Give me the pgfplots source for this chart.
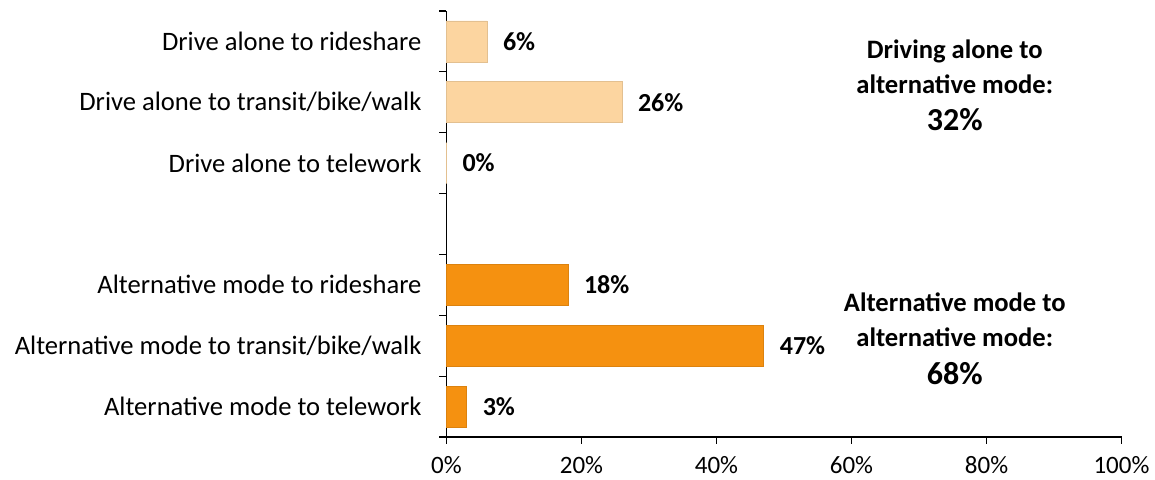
\documentclass[border=0pt]{standalone}
\usepackage{fontspec}
\setmainfont{Carlito}
\usepackage{pgfplots}
\pgfplotsset{compat=1.18}
\definecolor{lightor}{RGB}{252,213,160}
\definecolor{darkor}{RGB}{245,145,16}
\begin{document}
\begin{tikzpicture}
\begin{axis}[
  xbar,
  scale only axis,
  width=337.5pt, height=213pt,
  xmin=0, xmax=100,
  ymin=-0.5, ymax=6.5,
  axis lines=left,
  axis line style={-, line width=0.8pt, black},
  bar width=20.5pt,
  bar shift=0pt,
  xtick={0,20,40,60,80,100},
  xticklabels={0\%,20\%,40\%,60\%,80\%,100\%},
  % boundaries between categories carry the ticks
  ytick={-0.5,0.5,...,6.5},
  yticklabels={},
  extra y ticks={0,1,2,4,5,6},
  extra y tick labels={Alternative mode to telework,
               Alternative mode to transit/bike/walk,
               Alternative mode to rideshare,
               Drive alone to telework,
               Drive alone to transit/bike/walk,
               Drive alone to rideshare},
  extra y tick style={major tick length=0pt,
    yticklabel style={font=\fontsize{13.3}{15}\selectfont, xshift=-9pt}},
  xticklabel style={font=\fontsize{12.5}{14}\selectfont, yshift=-2.5pt},
  major tick length=3.5pt,
  tick style={black, line width=0.6pt},
  tick align=outside,
  point meta=x,
  nodes near coords={\pgfmathprintnumber[assume math mode=true]{\pgfplotspointmeta}\%},
  nodes near coords style={font=\bfseries\fontsize{13}{15}\selectfont, anchor=west, xshift=4.5pt},
  clip=false,
]
\addplot[fill=lightor, draw=lightor!90!black] coordinates {
  (6,6) (26,5) (0,4)
};
\addplot[fill=darkor, draw=darkor!90!black] coordinates {
  (18,2) (47,1) (3,0)
};
\node[font=\bfseries\fontsize{13.3}{15}\selectfont] at (axis cs:75.3,5.83) {Driving alone to};
\node[font=\bfseries\fontsize{13.3}{15}\selectfont] at (axis cs:75.3,5.30) {alternative mode:};
\node[font=\bfseries\fontsize{16}{18}\selectfont] at (axis cs:75.3,4.71) {32\%};
\node[font=\bfseries\fontsize{13.3}{15}\selectfont] at (axis cs:75.3,1.72) {Alternative mode to};
\node[font=\bfseries\fontsize{13.3}{15}\selectfont] at (axis cs:75.3,1.14) {alternative mode:};
\node[font=\bfseries\fontsize{16}{18}\selectfont] at (axis cs:75.3,0.55) {68\%};
\end{axis}
\pgfresetboundingbox
\useasboundingbox (current axis.south west) ++(-223.25pt,-21.5pt) rectangle ++(577.5pt,240pt);
\end{tikzpicture}
\end{document}
